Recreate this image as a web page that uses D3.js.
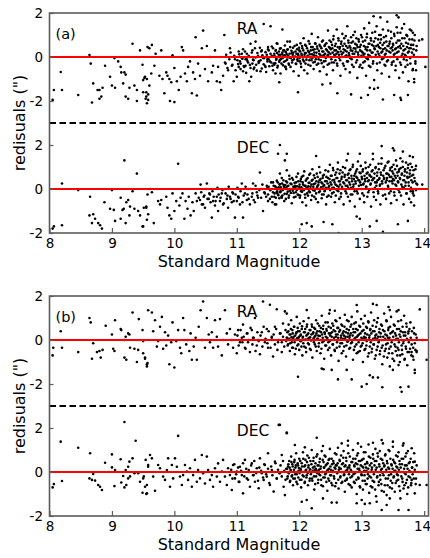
<!DOCTYPE html>
<html>
<head>
<meta charset="utf-8">
<script src="https://cdn.jsdelivr.net/npm/d3@7"></script>
<style>
  body { margin: 0; background: #fff; }
  svg { display: block; font-family: "DejaVu Sans", sans-serif; }
</style>
</head>
<body>
<div id="chart"></div>
<script>
// Residuos [magnitud, residuo en arcsec]
// (a) RA
const raA = [
  [8.05,-1.95],[8.07,-1.5],[8.18,-0.68],[8.2,-1.5],[8.46,-1.73],[8.64,0.09],[8.66,-0.3],[8.68,-2.07],[8.7,-1.2],[8.77,-1.5],
  [8.8,-1.5],[8.8,-1.9],[8.83,-1.8],[8.85,-1.4],[8.89,-0.4],[8.97,-0.9],[9.0,-1.3],[9.05,-1.4],[9.04,-0.05],[9.1,-0.2],
  [9.14,-0.45],[9.15,-0.7],[9.2,-0.7],[9.22,-0.8],[9.18,-1.2],[9.22,-1.8],[9.26,-1.9],[9.28,-1.4],[9.33,0.6],[9.36,-1.3],
  [9.4,-1.5],[9.4,-2.0],[9.45,0.3],[9.49,-0.35],[9.5,-1.6],[9.53,-0.9],[9.55,-1.8],[9.56,-1.0],[9.57,0.45],[9.58,-1.95],
  [9.5,-1.05],[9.52,-0.95],[9.55,-1.6],[9.54,-1.9],[9.58,-1.7],[9.56,-2.1],[9.6,-1.3],[9.63,-0.75],[9.6,0.4],[9.64,0.55],
  [9.68,-0.4],[9.7,0.15],[9.76,-0.85],[9.79,0.3],[9.81,-1.0],[9.84,-1.65],[9.87,-0.7],[9.89,-0.85],[9.92,-1.0],[9.95,-1.15],
  [9.97,0.08],[9.93,-2.0],[10.0,-2.05],[10.0,-0.5],[10.04,-1.1],[10.07,-1.5],[10.1,-0.9],[10.12,0.45],[10.14,0.3],[10.17,-0.75],
  [10.2,-1.1],[10.22,-0.45],[10.25,-0.2],[10.28,-1.65],[10.3,-0.7],[10.33,-1.0],[10.34,0.9],[10.36,-1.75],[10.38,-0.3],[10.41,-0.85],
  [10.44,0.4],[10.46,1.2],[10.49,-0.55],[10.52,0.5],[10.54,-1.1],[10.57,0.0],[10.6,-0.7],[10.62,-0.4],[10.65,0.3],[10.68,-1.1],
  [10.7,-0.45],[10.73,-1.15],[10.75,-1.5],[10.78,-0.85],[10.8,1.0],[10.82,-0.3],[10.86,-0.6],[10.89,0.4],[10.92,-0.4],[10.95,-1.1],
  [10.97,-0.1],[11.0,-0.9],[11.03,-0.45],[11.05,-0.2],[11.08,0.15],[11.1,-0.65],[11.14,-0.4],[11.16,-0.1],[11.2,-1.1],[11.22,0.6],
  [11.25,-0.3],[11.27,-0.55],[11.3,0.7],[11.33,0.0],[11.35,-0.2],[11.38,-0.65],[11.4,0.3],[11.43,1.5],[11.46,-0.45],[11.49,-0.1],
  [11.5,0.45],[11.54,1.4],[11.57,-0.4],[11.6,0.15],[11.62,-0.75],[11.65,0.6],[11.68,-1.15],[11.7,-0.1],[11.73,1.25],[11.76,0.3],
  [11.78,-0.45],[11.81,0.7],
  [11.02,-0.32],[11.04,0.12],[11.06,-0.55],[11.09,-0.08],[11.11,-0.41],[11.13,0.25],[11.15,-0.72],[11.17,-0.18],[11.19,0.05],[11.21,-0.36],
  [11.23,-0.9],[11.25,0.31],[11.26,-0.12],[11.28,-0.48],[11.3,-0.02],[11.32,-0.62],[11.33,0.18],[11.35,-0.27],[11.37,0.42],[11.38,-0.15],
  [11.4,-0.52],[11.41,0.08],[11.43,-0.33],[11.44,-0.05],[11.46,0.22],[11.47,-0.68],[11.49,-0.2],[11.5,0.35],
  [11.51,-0.1],[11.52,-0.42],[11.54,0.15],[11.55,-0.25],[11.56,0.48],[11.58,-0.6],[11.59,0.02],[11.6,-0.35],[11.62,0.28],[11.63,-0.12],
  [11.64,0.62],[11.65,-0.48],[11.67,0.1],[11.68,-0.22],[11.69,0.38],[11.7,-0.75],[11.72,-0.05],[11.73,0.2],[11.74,-0.38],[11.75,0.05],
  [11.77,0.52],[11.78,-0.18],[11.79,-0.55],[11.8,0.12],[11.81,0.33],[11.83,-0.3],[11.84,-0.02],[11.85,0.7],[11.86,-0.45],[11.88,0.18],
  [11.89,-0.15],[11.9,0.42],[11.91,-0.65],[11.92,0.0],[11.94,0.25],[11.95,-0.32],[11.96,0.55],[11.97,-0.1],[11.98,0.15],[11.99,-0.85],
  [12.0,0.3],[12.01,-0.2],[12.02,0.62],[12.03,-0.45],[12.04,0.08],[12.05,0.4],[12.06,-0.12],[12.07,0.85],[12.08,-0.6],[12.09,0.18],
  [12.1,-0.3],[12.11,0.5],[12.12,0.0],[12.13,-0.75],[12.14,0.28],[12.15,0.72],[12.16,-0.15],[12.17,0.12],[12.18,-0.4],[12.19,0.45],
  [12.2,1.05],[12.21,-0.05],[12.22,0.32],[12.23,-0.55],[12.24,0.2],[12.25,-0.22],[12.26,0.6],[12.27,0.05],[12.28,-0.35],[12.29,0.38],
  [12.3,0.9],[12.31,-0.1],[12.32,0.15],[12.33,-0.65],[12.34,0.48],[12.35,0.02],[12.36,-0.28],[12.37,0.25],[12.38,0.75],[12.39,-0.45],
  [12.4,0.1],[12.41,0.55],[12.42,-0.18],[12.43,0.35],[12.44,-0.8],[12.45,0.05],[12.46,1.2],[12.47,0.22],[12.48,-0.3],[12.49,0.42],
  [12.5,0.15],[12.51,0.68],[12.52,-0.25],[12.53,0.4],[12.54,-0.6],[12.55,0.95],[12.56,0.1],[12.57,0.5],[12.58,-0.15],[12.59,0.3],
  [12.6,1.25],[12.61,-0.4],[12.62,0.22],[12.63,0.75],[12.64,-0.05],[12.65,0.45],[12.66,-0.85],[12.67,0.6],[12.68,0.12],[12.69,1.05],
  [12.7,-0.3],[12.71,0.35],[12.72,0.85],[12.73,0.02],[12.74,-0.55],[12.75,0.5],[12.76,0.25],[12.77,1.4],[12.78,-0.2],[12.79,0.65],
  [12.8,0.08],[12.81,-0.7],[12.82,0.42],[12.83,0.9],[12.84,-0.1],[12.85,0.28],[12.86,0.7],[12.87,-0.45],[12.88,0.15],[12.89,1.15],
  [12.9,0.38],[12.91,-0.25],[12.92,0.55],[12.93,-0.95],[12.94,0.2],[12.95,0.8],[12.96,0.0],[12.97,0.45],[12.98,-0.35],[12.99,1.0],
  [13.0,0.25],[13.01,-0.5],[13.02,0.7],[13.03,0.1],[13.04,1.3],[13.05,-0.2],[13.06,0.45],[13.07,-0.85],[13.08,0.9],[13.09,0.3],
  [13.1,-0.1],[13.11,0.6],[13.12,1.55],[13.13,0.05],[13.14,-0.45],[13.15,0.75],[13.16,0.2],[13.17,1.1],[13.18,-0.3],[13.19,0.5],
  [13.2,-1.05],[13.21,0.35],[13.22,0.85],[13.23,0.0],[13.24,1.4],[13.25,-0.6],[13.26,0.55],[13.27,0.15],[13.28,1.0],[13.29,-0.25],
  [13.3,0.4],[13.31,0.8],[13.32,-0.75],[13.33,0.25],[13.34,1.25],[13.35,-0.05],[13.36,0.65],[13.37,0.1],[13.38,-0.4],[13.39,0.95],
  [13.4,0.3],[13.41,1.6],[13.42,-0.15],[13.43,0.5],[13.44,-0.9],[13.45,0.7],[13.46,0.2],[13.47,1.15],[13.48,-0.35],[13.49,0.45],
  [13.5,0.6],[13.51,-0.2],[13.52,1.05],[13.53,0.15],[13.54,-0.6],[13.55,0.4],[13.56,1.35],[13.57,-0.1],[13.58,0.75],[13.59,0.25],
  [13.6,-0.95],[13.61,0.5],[13.62,1.1],[13.63,-0.35],[13.64,0.05],[13.65,0.85],[13.66,-0.7],[13.67,0.3],[13.68,1.5],[13.69,0.1],
  [13.7,-0.45],[13.71,0.65],[13.72,-0.15],[13.73,0.95],[13.74,0.2],[13.75,-1.1],[13.76,0.4],[13.77,1.25],[13.78,-0.3],[13.79,0.55],
  [13.8,0.0],[13.81,0.8],[13.82,-0.55],[13.83,0.35],[13.85,1.0],[13.86,-0.2],[13.88,0.5],
  [12.92,2.06],[13.56,1.9],[13.59,1.8],[13.19,1.85],[13.3,1.8],[11.98,-1.6],[12.37,-1.25],[12.5,-1.2],[12.61,-1.65],[12.83,-1.7],
  [12.99,-1.85],[13.1,-1.73],[13.13,-1.4],[13.2,-1.45],[13.26,-1.4],[13.34,-1.93],[13.52,-1.73],[13.62,-1.85],[13.63,-1.95],[13.74,-1.73],
  [13.84,-1.15],[13.84,-1.0],[13.87,-0.6],[13.92,0.75],[13.97,0.8],[14.02,-0.45],[13.82,1.1],[13.72,1.0]
]

// (a) RA, transicion y nucleo denso
const raARamp = [
  [10.81,-0.25],[10.83,0.1],[10.85,-0.5],[10.88,-0.1],[10.9,0.2],[10.93,-0.35],[10.96,0.05],[10.98,-0.6],[11.01,-0.15],[11.03,0.25],
  [11.06,-0.3],[11.08,-0.05],[11.1,0.35],[11.12,-0.45],[11.14,-0.1],[11.16,0.15],[11.18,-0.25],[11.2,0.0],[11.22,-0.5],[11.24,0.2],
  [11.27,-0.15],[11.29,0.4],[11.31,-0.35],[11.34,0.05],[11.36,-0.2],[11.39,0.25],[11.42,-0.05],[11.45,-0.4],[11.48,0.1],[11.51,0.3],
  [11.53,-0.2],[11.56,0.05],[11.58,0.4],[11.59,-0.3]
]

const raACore = [
  [11.605,0.05],[11.615,-0.28],[11.625,0.32],[11.635,-0.08],[11.645,0.18],[11.655,-0.4],[11.665,0.0],[11.675,0.25],[11.685,-0.15],[11.695,0.1],
  [11.705,0.4],[11.715,-0.3],[11.725,0.12],[11.735,-0.05],[11.745,0.3],[11.755,-0.22],[11.765,0.08],[11.775,-0.45],[11.785,0.22],[11.795,0.0],
  [11.805,-0.12],[11.815,0.35],[11.825,0.05],[11.835,-0.35],[11.845,0.15],[11.855,0.45],[11.865,-0.05],[11.875,0.28],[11.885,-0.25],[11.895,0.1],
  [11.905,0.2],[11.915,-0.1],[11.925,0.5],[11.935,0.02],[11.945,-0.3],[11.955,0.15],[11.965,0.35],[11.975,-0.18],[11.985,0.08],[11.995,0.42],
  [12.005,-0.05],[12.015,0.25],[12.025,-0.3],[12.035,0.15],[12.045,0.5],[12.055,0.0],[12.065,0.3],[12.075,-0.2],[12.085,0.1],[12.095,0.55],
  [12.105,0.18],[12.115,-0.12],[12.125,0.4],[12.135,0.05],[12.145,-0.35],[12.155,0.22],[12.165,0.6],[12.175,-0.02],[12.185,0.3],[12.195,-0.15],
  [12.205,0.12],[12.215,0.45],[12.225,-0.25],[12.235,0.08],[12.245,0.35],[12.255,0.62],[12.265,-0.1],[12.275,0.2],[12.285,0.48],[12.295,0.0],
  [12.305,-0.3],[12.315,0.28],[12.325,0.55],[12.335,0.1],[12.345,-0.15],[12.355,0.4],[12.365,0.7],[12.375,0.05],[12.385,0.25],[12.395,-0.2],
  [12.405,0.5],[12.415,0.15],[12.425,-0.05],[12.435,0.62],[12.445,0.3],[12.455,-0.35],[12.465,0.1],[12.475,0.45],[12.485,0.75],[12.495,0.0],
  [12.505,0.35],[12.515,-0.1],[12.525,0.55],[12.535,0.2],[12.545,0.8],[12.555,-0.25],[12.565,0.3],[12.575,0.05],[12.585,0.6],[12.595,0.15],
  [12.605,-0.3],[12.615,0.45],[12.625,0.85],[12.635,0.1],[12.645,0.38],[12.655,-0.15],[12.665,0.25],[12.675,0.7],[12.685,0.0],[12.695,0.5],
  [12.705,0.2],[12.715,-0.4],[12.725,0.6],[12.735,0.3],[12.745,0.95],[12.755,0.08],[12.765,-0.2],[12.775,0.42],[12.785,0.75],[12.795,0.18],
  [12.805,0.5],[12.815,-0.05],[12.825,0.3],[12.835,0.65],[12.845,-0.35],[12.855,0.15],[12.865,1.0],[12.875,0.4],[12.885,0.0],[12.895,0.6],
  [12.905,0.25],[12.915,0.85],[12.925,-0.15],[12.935,0.45],[12.945,0.1],[12.955,0.7],[12.965,-0.45],[12.975,0.3],[12.985,0.55],[12.995,0.05],
  [13.005,0.9],[13.015,0.2],[13.025,-0.25],[13.035,0.5],[13.045,0.15],[13.055,0.75],[13.065,0.35],[13.075,-0.05],[13.085,1.05],[13.095,0.45],
  [13.105,0.1],[13.115,-0.4],[13.125,0.6],[13.135,0.3],[13.145,0.85],[13.155,0.0],[13.165,0.55],[13.175,0.2],[13.185,-0.2],[13.195,0.7],
  [13.205,0.4],[13.215,1.15],[13.225,0.1],[13.235,0.5],[13.245,-0.3],[13.255,0.25],[13.265,0.8],[13.275,0.45],[13.285,0.05],[13.295,0.65],
  [13.305,1.0],[13.315,0.2],[13.325,-0.1],[13.335,0.55],[13.345,0.35],[13.355,0.9],[13.365,-0.35],[13.375,0.4],[13.385,0.15],[13.395,0.7],
  [13.405,-0.2],[13.415,0.5],[13.425,1.2],[13.435,0.25],[13.445,0.6],[13.455,0.0],[13.465,0.4],[13.475,0.85],[13.485,-0.25],[13.495,0.3],
  [13.505,0.55],[13.515,0.1],[13.525,0.95],[13.535,0.35],[13.545,-0.4],[13.555,0.65],[13.565,0.2],[13.575,1.1],[13.585,0.45],[13.595,0.0],
  [13.605,0.75],[13.615,-0.25],[13.625,0.4],[13.635,0.6],[13.645,1.3],[13.655,0.15],[13.665,0.5],[13.675,-0.1],[13.685,0.85],[13.695,0.35],
  [13.705,0.05],[13.715,1.0],[13.725,0.45],[13.735,-0.35],[13.745,0.6],[13.755,0.25],[13.765,0.8],[13.775,-0.05],[13.785,0.4],[13.795,1.2],
  [13.805,0.2],[13.815,-0.6],[13.825,0.55],[13.835,0.1],[13.845,0.75],[13.86,-0.3],[13.875,0.3]
]

// (a) DEC
const decA = [
  [8.05,-1.8],[8.07,-1.7],[8.2,-1.65],[8.2,0.25],[8.46,-0.05],[8.65,-0.35],[8.64,-1.2],[8.7,-1.15],[8.73,-1.35],[8.68,-1.55],
  [8.78,-1.55],[8.81,-1.65],[8.84,-1.8],[8.88,-0.6],[8.97,-0.9],[9.0,-0.05],[9.03,-0.95],[9.05,-1.45],[9.14,-0.4],[9.14,-1.35],
  [9.17,-0.95],[9.19,-0.9],[9.2,1.3],[9.22,-1.55],[9.23,-0.6],[9.26,-0.5],[9.28,-1.2],[9.29,-0.8],[9.33,-0.1],[9.36,-0.9],
  [9.4,0.7],[9.42,-1.0],[9.45,-1.2],[9.49,-1.7],[9.51,-0.85],[9.55,-0.8],[9.56,-1.4],[9.57,-0.25],
  [9.5,-1.7],[9.55,-0.85],[9.58,-1.15],[9.61,0.0],[9.64,-0.15],[9.67,-1.55],[9.74,-0.55],[9.77,-0.7],[9.79,-0.5],[9.87,-0.35],
  [9.89,-0.85],[9.92,-1.2],[9.95,-1.35],[9.97,-0.2],[10.0,-1.0],[10.03,-0.55],[10.06,1.15],[10.08,-0.75],[10.1,-0.4],[10.13,-0.2],
  [10.16,-1.35],[10.18,-0.55],[10.21,-0.9],[10.23,-0.35],[10.26,-1.2],[10.29,-0.6],[10.31,-1.0],[10.34,-0.2],[10.36,-0.55],[10.39,-0.4],
  [10.42,0.2],[10.44,-0.7],[10.47,-0.35],[10.49,-0.85],[10.52,0.25],[10.55,-0.45],[10.57,-0.25],[10.6,-1.3],[10.62,-0.55],[10.65,-0.75],
  [10.68,-0.35],[10.7,-1.0],[10.73,-0.55],[10.76,-0.2],[10.78,-0.7],[10.81,0.0],[10.84,-0.45],[10.86,-0.85],[10.89,-0.35],[10.92,-0.6],
  [10.94,-0.2],[10.97,-1.3],[11.0,-0.55],[11.02,-0.35],[11.05,-0.7],[11.08,0.25],[11.1,-1.3],[11.13,-0.2],[11.16,-0.5],[11.18,0.0],
  [11.21,-0.7],[11.24,-0.35],[11.26,0.25],[11.29,-0.6],[11.32,-0.15],[11.34,-0.4],[11.37,0.75],[11.4,0.0],[11.42,-1.0],[11.45,-0.2],
  [11.48,0.15],[11.5,-0.55],[11.53,-0.05],[11.56,-0.35],[11.58,0.3],[11.61,-0.7],[11.64,-0.15],[11.66,1.6],[11.69,0.7],[11.72,-0.4],
  [11.77,1.3],[11.8,0.85],
  [11.5,-0.25],[11.51,0.1],[11.53,-0.45],[11.54,-0.05],[11.55,0.3],[11.57,-0.6],[11.58,-0.15],[11.59,0.15],[11.6,-0.35],[11.62,0.02],
  [11.63,-0.7],[11.64,0.38],[11.65,-0.2],[11.67,0.08],[11.68,-0.42],[11.69,0.22],[11.7,-0.1],[11.72,0.5],[11.73,-0.3],[11.74,-0.02],
  [11.75,0.18],[11.76,-0.55],[11.78,0.05],[11.79,0.35],[11.8,-0.22],[11.81,0.12],[11.83,-0.4],[11.84,0.6],[11.85,-0.08],[11.86,0.25],
  [11.88,-0.65],[11.89,0.0],[11.9,0.42],[11.91,-0.18],[11.93,0.15],[11.94,-0.35],[11.95,0.3],[11.96,-0.05],[11.98,0.7],[11.99,-0.28],
  [12.0,0.1],[12.01,-0.4],[12.02,0.35],[12.03,-0.1],[12.04,0.55],[12.05,-0.6],[12.06,0.2],[12.07,0.0],[12.08,0.8],[12.09,-0.25],
  [12.1,0.15],[12.11,-0.75],[12.12,0.45],[12.13,0.05],[12.14,-0.3],[12.15,0.28],[12.16,0.65],[12.17,-0.15],[12.18,0.1],[12.19,-0.5],
  [12.2,0.38],[12.21,0.9],[12.22,-0.05],[12.23,0.22],[12.24,-0.35],[12.25,0.5],[12.26,0.0],[12.27,-0.2],[12.28,0.7],[12.29,0.12],
  [12.3,-0.6],[12.31,0.3],[12.32,1.0],[12.33,-0.1],[12.34,0.45],[12.35,0.08],[12.36,-0.42],[12.37,0.25],[12.38,0.6],[12.39,-0.25],
  [12.4,0.18],[12.41,-0.05],[12.42,0.85],[12.43,-0.7],[12.44,0.35],[12.45,0.02],[12.46,0.5],[12.47,-0.3],[12.48,0.15],[12.49,1.1],
  [12.5,0.3],[12.51,-0.35],[12.52,0.6],[12.53,0.05],[12.54,0.95],[12.55,-0.15],[12.56,0.42],[12.57,-0.6],[12.58,0.2],[12.59,0.75],
  [12.6,-0.05],[12.61,0.5],[12.62,1.2],[12.63,0.1],[12.64,-0.45],[12.65,0.35],[12.66,0.85],[12.67,-0.2],[12.68,0.55],[12.69,0.0],
  [12.7,1.0],[12.71,-0.7],[12.72,0.25],[12.73,0.65],[12.74,-0.1],[12.75,0.4],[12.76,1.3],[12.77,0.15],[12.78,-0.35],[12.79,0.7],
  [12.8,0.3],[12.81,-0.55],[12.82,0.9],[12.83,0.05],[12.84,0.48],[12.85,-0.25],[12.86,1.1],[12.87,0.2],[12.88,0.6],[12.89,-0.8],
  [12.9,0.35],[12.91,0.8],[12.92,-0.1],[12.93,0.5],[12.94,1.25],[12.95,0.0],[12.96,0.4],[12.97,-0.45],[12.98,0.72],[12.99,0.18],
  [13.0,0.55],[13.01,-0.2],[13.02,0.9],[13.03,0.25],[13.04,-0.6],[13.05,0.45],[13.06,1.2],[13.07,0.1],[13.08,0.7],[13.09,-0.35],
  [13.1,0.35],[13.11,1.0],[13.12,-0.05],[13.13,0.6],[13.14,0.2],[13.15,-0.8],[13.16,0.8],[13.17,0.4],[13.18,1.35],[13.19,-0.15],
  [13.2,0.5],[13.21,0.05],[13.22,0.95],[13.23,-0.5],[13.24,0.3],[13.25,0.75],[13.26,-0.1],[13.27,1.15],[13.28,0.45],[13.29,0.15],
  [13.3,-0.7],[13.31,0.65],[13.32,1.4],[13.33,0.25],[13.34,-0.3],[13.35,0.85],[13.36,0.5],[13.37,0.0],[13.38,1.05],[13.39,-0.45],
  [13.4,0.4],[13.41,0.7],[13.42,0.15],[13.43,1.25],[13.44,-0.2],[13.45,0.55],[13.46,0.95],[13.47,-0.65],[13.48,0.35],[13.49,0.8],
  [13.5,0.45],[13.51,1.1],[13.52,-0.15],[13.53,0.6],[13.54,0.2],[13.55,1.3],[13.56,-0.5],[13.57,0.75],[13.58,0.35],[13.59,-0.05],
  [13.6,0.9],[13.61,0.5],[13.62,1.4],[13.63,-0.3],[13.64,0.65],[13.65,0.1],[13.66,1.0],[13.67,-0.7],[13.68,0.4],[13.69,0.8],
  [13.7,0.15],[13.71,1.2],[13.72,-0.2],[13.73,0.55],[13.74,0.95],[13.75,0.3],[13.76,-0.45],[13.77,0.7],[13.78,1.15],[13.79,0.05],
  [13.8,0.6],[13.82,-0.1],[13.83,0.85],[13.85,0.35],[13.87,1.05],[13.89,0.2],
  [13.32,1.95],[13.5,1.85],[13.52,1.75],[11.69,2.0],[11.8,1.6],[12.27,1.5],[12.78,1.6],[12.97,1.6],[13.18,1.6],[13.66,1.7],
  [13.77,1.5],[13.82,1.45],[12.04,-1.6],[12.12,-1.55],[12.2,-1.7],[12.39,-1.5],[12.53,-1.6],[12.63,-2.0],[12.92,-1.25],[12.97,-1.35],
  [13.13,-1.7],[13.24,-1.45],[13.34,-1.95],[13.58,-1.6],[13.74,-1.45],[13.84,-0.75],[13.87,-0.05],[13.97,0.2],[13.79,-0.6],[13.82,-0.2]
]

// (a) DEC, transicion y nucleo denso
const decARamp = [
  [10.41,-0.5],[10.43,-0.15],[10.46,-0.7],[10.48,-0.3],[10.51,0.0],[10.53,-0.45],[10.56,-0.2],[10.58,-0.6],[10.61,-0.1],[10.63,-0.35],
  [10.66,-0.55],[10.69,0.05],[10.71,-0.25],[10.74,-0.4],[10.77,-0.05],[10.79,-0.65],[10.82,-0.2],[10.85,-0.3],[10.87,0.1],[10.9,-0.45],
  [10.93,-0.15],[10.95,-0.55],[10.98,-0.25],[11.01,0.05],[11.03,-0.4],[11.06,-0.1],[11.09,-0.6],[11.11,-0.3],[11.14,0.1],[11.17,-0.25],
  [11.19,-0.45],[11.22,0.0],[11.25,-0.2],[11.27,-0.5],[11.3,0.15],[11.33,-0.3],[11.36,-0.05],[11.39,-0.4],[11.41,0.2],[11.44,-0.15],
  [11.47,-0.35],[11.49,0.05]
]

const decACore = [
  [11.605,-0.2],[11.615,0.12],[11.625,-0.4],[11.635,0.05],[11.645,-0.1],[11.655,0.3],[11.665,-0.28],[11.675,0.0],[11.685,0.2],[11.695,-0.15],
  [11.705,0.08],[11.715,-0.35],[11.725,0.25],[11.735,-0.05],[11.745,0.4],[11.755,0.1],[11.765,-0.22],[11.775,0.18],[11.785,-0.45],[11.795,0.02],
  [11.805,0.3],[11.815,-0.12],[11.825,0.15],[11.835,-0.3],[11.845,0.45],[11.855,0.0],[11.865,-0.18],[11.875,0.22],[11.885,0.5],[11.895,-0.08],
  [11.905,0.1],[11.915,-0.38],[11.925,0.28],[11.935,0.05],[11.945,-0.15],[11.955,0.55],[11.965,0.12],[11.975,-0.25],[11.985,0.35],[11.995,0.0],
  [12.005,0.2],[12.015,-0.3],[12.025,0.45],[12.035,0.08],[12.045,-0.12],[12.055,0.3],[12.065,0.6],[12.075,-0.05],[12.085,0.15],[12.095,-0.4],
  [12.105,0.38],[12.115,0.05],[12.125,-0.2],[12.135,0.5],[12.145,0.12],[12.155,-0.1],[12.165,0.28],[12.175,0.7],[12.185,0.0],[12.195,0.2],
  [12.205,-0.3],[12.215,0.42],[12.225,0.1],[12.235,0.62],[12.245,-0.08],[12.255,0.25],[12.265,-0.45],[12.275,0.35],[12.285,0.05],[12.295,0.55],
  [12.305,0.18],[12.315,-0.15],[12.325,0.4],[12.335,0.75],[12.345,0.0],[12.355,0.3],[12.365,-0.25],[12.375,0.5],[12.385,0.12],[12.395,0.65],
  [12.405,-0.1],[12.415,0.35],[12.425,0.05],[12.435,0.55],[12.445,-0.35],[12.455,0.25],[12.465,0.8],[12.475,0.1],[12.485,0.45],[12.495,-0.05],
  [12.505,0.6],[12.515,0.2],[12.525,-0.2],[12.535,0.4],[12.545,0.85],[12.555,0.05],[12.565,0.3],[12.575,0.65],[12.585,-0.3],[12.595,0.5],
  [12.605,0.15],[12.615,0.9],[12.625,-0.1],[12.635,0.35],[12.645,0.7],[12.655,0.2],[12.665,-0.35],[12.675,0.45],[12.685,0.1],[12.695,0.75],
  [12.705,0.3],[12.715,0.0],[12.725,0.55],[12.735,0.95],[12.745,0.15],[12.755,-0.2],[12.765,0.4],[12.775,0.65],[12.785,0.05],[12.795,0.5],
  [12.805,0.85],[12.815,0.2],[12.825,-0.25],[12.835,0.6],[12.845,0.35],[12.855,1.0],[12.865,0.1],[12.875,0.45],[12.885,-0.1],[12.895,0.7],
  [12.905,0.25],[12.915,0.55],[12.925,0.9],[12.935,-0.2],[12.945,0.4],[12.955,0.15],[12.965,0.75],[12.975,0.3],[12.985,1.05],[12.995,0.0],
  [13.005,0.45],[13.015,0.8],[13.025,0.2],[13.035,-0.3],[13.045,0.6],[13.055,0.35],[13.065,0.95],[13.075,0.1],[13.085,0.5],[13.095,0.75],
  [13.105,-0.15],[13.115,0.4],[13.125,0.65],[13.135,1.1],[13.145,0.25],[13.155,0.55],[13.165,0.0],[13.175,0.85],[13.185,0.45],[13.195,-0.35],
  [13.205,0.7],[13.215,0.3],[13.225,1.0],[13.235,0.15],[13.245,0.6],[13.255,0.4],[13.265,-0.2],[13.275,0.9],[13.285,0.5],[13.295,0.2],
  [13.305,0.75],[13.315,1.15],[13.325,0.35],[13.335,0.0],[13.345,0.6],[13.355,0.45],[13.365,0.95],[13.375,-0.25],[13.385,0.3],[13.395,0.7],
  [13.405,0.5],[13.415,1.2],[13.425,0.1],[13.435,0.65],[13.445,0.35],[13.455,0.85],[13.465,-0.1],[13.475,0.55],[13.485,1.0],[13.495,0.25],
  [13.505,0.7],[13.515,0.4],[13.525,-0.3],[13.535,0.9],[13.545,0.5],[13.555,0.15],[13.565,1.05],[13.575,0.6],[13.585,0.3],[13.595,0.8],
  [13.605,-0.15],[13.615,0.45],[13.625,0.95],[13.635,0.2],[13.645,0.7],[13.655,1.25],[13.665,0.4],[13.675,0.05],[13.685,0.6],[13.695,0.9],
  [13.705,0.3],[13.715,-0.2],[13.725,0.75],[13.735,0.5],[13.745,1.1],[13.755,0.15],[13.765,0.55],[13.775,0.85],[13.785,-0.1],[13.795,0.4],
  [13.805,1.0],[13.815,0.3],[13.825,0.65],[13.835,-0.3],[13.845,0.5],[13.86,0.9],[13.875,0.25]
]

// (b) RA
const raB = [
  [8.06,-0.35],[8.05,-0.7],[8.18,0.4],[8.2,-0.35],[8.46,-0.55],[8.64,1.0],[8.66,0.8],[8.7,-0.15],[8.68,-0.85],[8.76,-0.55],
  [8.8,-0.5],[8.82,-0.8],[8.85,-0.45],[8.9,0.65],[9.0,0.25],[9.02,-0.4],[9.04,-0.5],[9.05,0.9],[9.14,0.5],[9.15,0.45],
  [9.2,0.0],[9.2,-0.8],[9.23,-0.9],[9.22,0.15],[9.26,0.3],[9.28,0.25],[9.29,-0.35],[9.33,1.25],[9.36,-0.4],[9.4,-1.0],
  [9.42,-0.45],[9.43,0.95],[9.49,0.45],[9.5,-0.6],[9.53,-0.85],[9.56,-1.2],[9.57,-1.05],
  [9.5,-0.05],[9.53,-0.8],[9.56,-1.1],[9.58,1.35],[9.64,1.25],[9.66,0.4],[9.69,0.9],[9.72,-0.3],[9.74,-0.05],[9.77,0.6],
  [9.8,1.05],[9.82,-0.4],[9.85,0.35],[9.87,-0.25],[9.9,0.2],[9.92,-1.1],[9.95,-0.1],[9.97,0.8],[10.0,-1.25],[10.03,-0.05],
  [10.06,0.45],[10.09,-0.35],[10.11,-0.6],[10.14,1.0],[10.16,0.45],[10.19,-0.2],[10.21,0.0],[10.24,-0.5],[10.26,0.3],[10.28,-0.9],
  [10.31,-0.3],[10.34,0.1],[10.36,-0.9],[10.39,0.6],[10.42,1.35],[10.44,0.0],[10.46,1.75],[10.49,-0.35],[10.52,1.0],[10.55,0.25],
  [10.57,-0.1],[10.6,0.35],[10.62,-0.35],[10.65,0.9],[10.68,0.15],[10.7,-0.3],[10.73,0.95],[10.76,-0.7],[10.78,0.0],[10.81,1.35],
  [10.84,0.3],[10.86,-0.2],[10.89,0.5],[10.92,0.0],[10.94,-0.35],[10.97,0.25],[11.0,-0.6],[11.02,0.45],[11.05,-0.1],[11.08,0.1],
  [11.1,0.7],[11.13,-0.35],[11.16,0.3],[11.18,-0.1],[11.21,-0.55],[11.24,0.45],[11.26,0.1],[11.29,1.0],[11.32,-0.25],[11.34,0.0],
  [11.37,-0.65],[11.4,0.35],[11.42,1.75],[11.45,-0.1],[11.48,0.5],[11.5,-0.35],[11.53,1.6],[11.56,0.15],[11.58,-0.75],[11.61,0.6],
  [11.64,1.4],[11.66,-0.1],[11.69,0.3],[11.72,-0.55],[11.74,0.75],[11.77,1.3],[11.8,0.1],
  [11.81,0.35],[11.82,-0.2],[11.83,0.7],[11.84,0.05],[11.85,-0.5],[11.86,0.25],[11.87,0.9],[11.88,-0.1],[11.89,0.45],[11.9,-0.35],
  [11.91,0.15],[11.92,0.6],[11.93,-0.65],[11.94,0.0],[11.95,0.3],[11.96,1.05],[11.97,-0.25],[11.98,0.4],[11.99,0.1],[12.0,-0.45],
  [12.01,0.75],[12.02,0.2],[12.03,-0.05],[12.04,0.5],[12.05,-0.7],[12.06,0.15],[12.07,0.85],[12.08,-0.3],[12.09,0.35],[12.1,0.02],
  [12.11,-0.55],[12.12,0.6],[12.13,0.25],[12.14,-0.15],[12.15,1.0],[12.16,0.1],[12.17,-0.4],[12.18,0.45],[12.19,-0.02],[12.2,0.7],
  [12.21,-0.8],[12.22,0.3],[12.23,0.08],[12.24,0.55],[12.25,-0.2],[12.26,0.2],[12.27,0.9],[12.28,-0.5],[12.29,0.4],
  [12.3,0.05],[12.31,-0.3],[12.32,0.65],[12.33,0.18],[12.34,-0.6],[12.35,0.35],[12.36,1.1],[12.37,-0.1],[12.38,0.5],[12.39,0.0],
  [12.4,-0.85],[12.41,0.28],[12.42,0.8],[12.43,-0.25],[12.44,0.42],[12.45,0.1],[12.46,-0.45],[12.47,0.6],[12.48,1.2],[12.49,-0.05],
  [12.5,0.3],[12.51,-0.7],[12.52,0.15],[12.53,0.75],[12.54,-0.2],[12.55,0.45],[12.56,0.02],[12.57,-0.5],[12.58,0.9],[12.59,0.25],
  [12.6,-0.35],[12.61,0.55],[12.62,0.1],[12.63,-0.95],[12.64,0.38],[12.65,1.0],[12.66,-0.15],[12.67,0.2],[12.68,-0.6],[12.69,0.65],
  [12.7,0.05],[12.71,0.4],[12.72,-0.3],[12.73,1.15],[12.74,0.15],[12.75,-0.75],[12.76,0.5],[12.77,-0.08],[12.78,0.3],[12.79,0.85],
  [12.8,-0.4],[12.81,0.2],[12.82,0.6],[12.83,-0.15],[12.84,1.05],[12.85,0.0],[12.86,-0.9],[12.87,0.35],[12.88,0.75],[12.89,-0.3],
  [12.9,0.1],[12.91,0.5],[12.92,-0.6],[12.93,1.3],[12.94,0.2],[12.95,-0.1],[12.96,0.65],[12.97,-0.5],[12.98,0.3],[12.99,0.95],
  [13.0,-0.25],[13.01,0.05],[13.02,-1.0],[13.03,0.45],[13.04,0.15],[13.05,1.1],[13.06,-0.4],[13.07,0.6],[13.08,-0.05],[13.09,0.25],
  [13.1,-0.75],[13.11,0.8],[13.12,0.1],[13.13,-0.3],[13.14,0.5],[13.15,1.25],[13.16,-0.55],[13.17,0.0],[13.18,0.4],[13.19,-0.2],
  [13.2,0.9],[13.21,-0.85],[13.22,0.2],[13.23,0.6],[13.24,-0.45],[13.25,0.05],[13.26,1.0],[13.27,-0.1],[13.28,0.35],[13.29,-0.65],
  [13.3,0.15],[13.31,0.7],[13.32,-0.35],[13.33,-1.1],[13.34,0.45],[13.35,0.0],[13.36,1.2],[13.37,-0.5],[13.38,0.25],[13.39,-0.2],
  [13.4,0.85],[13.41,-0.8],[13.42,0.1],[13.43,0.55],[13.44,-0.4],[13.45,-1.2],[13.46,0.3],[13.47,1.05],[13.48,-0.1],[13.49,-0.6],
  [13.5,0.4],[13.51,0.0],[13.52,-0.95],[13.53,0.65],[13.54,-0.3],[13.55,0.2],[13.56,1.3],[13.57,-0.7],[13.58,0.05],[13.59,-0.45],
  [13.6,0.5],[13.61,-1.0],[13.62,0.15],[13.63,0.9],[13.64,-0.25],[13.65,-0.65],[13.66,0.35],[13.67,-0.05],[13.68,1.1],[13.69,-0.85],
  [13.7,0.2],[13.71,-0.4],[13.72,0.6],[13.73,-1.15],[13.74,0.0],[13.75,0.4],[13.76,-0.55],[13.78,0.8],[13.8,-0.2],[13.82,-0.75],
  [13.84,0.3],[13.86,-0.45],[13.88,0.1],
  [12.92,1.59],[13.18,1.64],[13.24,1.59],[13.43,1.5],[13.45,1.36],[13.59,1.36],[13.93,1.39],[12.49,1.36],[12.57,1.33],[12.12,1.36],
  [11.8,1.2],[11.98,-1.67],[12.36,-1.3],[12.39,-1.33],[12.52,-1.36],[12.62,-1.79],[12.76,-1.36],[12.84,-1.79],[13.0,-2.12],[13.08,-2.0],
  [13.13,-1.6],[13.18,-1.7],[13.26,-1.71],[13.33,-2.15],[13.5,-1.36],[13.59,-1.14],[13.62,-2.15],[13.64,-2.35],[13.75,-2.12],[13.83,-0.9],
  [13.85,-1.36],[13.85,-1.5],[14.04,-0.9],[13.8,-0.55],[13.88,-0.55],[13.98,0.0]
]

// (b) RA, transicion y nucleo denso
const raBRamp = [
  [11.01,0.2],[11.03,-0.25],[11.06,0.45],[11.09,-0.1],[11.11,0.15],[11.14,-0.4],[11.17,0.3],[11.19,0.0],[11.22,0.55],[11.25,-0.2],
  [11.27,0.1],[11.3,-0.5],[11.33,0.35],[11.35,-0.05],[11.38,0.2],[11.41,-0.3],[11.43,0.6],[11.46,0.05],[11.49,-0.15],[11.51,0.4],
  [11.54,-0.35],[11.56,0.1],[11.59,0.25],[11.61,-0.2],[11.63,0.5],[11.65,-0.45],[11.67,0.0],[11.7,0.3],[11.72,-0.1],[11.74,0.15],
  [11.76,-0.3],[11.78,0.45],[11.79,-0.05]
]

const raBCore = [
  [11.805,0.1],[11.815,-0.25],[11.825,0.4],[11.835,0.0],[11.845,0.25],[11.855,-0.15],[11.865,0.5],[11.875,0.12],[11.885,-0.35],[11.895,0.3],
  [11.905,0.05],[11.915,0.6],[11.925,-0.1],[11.935,0.2],[11.945,-0.4],[11.955,0.35],[11.965,0.08],[11.975,0.55],[11.985,-0.2],[11.995,0.15],
  [12.005,0.4],[12.015,-0.05],[12.025,0.25],[12.035,-0.3],[12.045,0.62],[12.055,0.1],[12.065,-0.15],[12.075,0.35],[12.085,0.0],[12.095,0.5],
  [12.105,-0.35],[12.115,0.2],[12.125,0.7],[12.135,0.05],[12.145,0.3],[12.155,-0.2],[12.165,0.45],[12.175,0.12],[12.185,-0.45],[12.195,0.25],
  [12.205,0.6],[12.215,0.0],[12.225,0.35],[12.235,-0.1],[12.245,0.15],[12.255,0.5],[12.265,-0.3],[12.275,0.3],[12.285,0.05],[12.295,0.75],
  [12.305,0.2],[12.315,-0.15],[12.325,0.4],[12.335,0.0],[12.345,0.55],[12.355,-0.4],[12.365,0.25],[12.375,0.1],[12.385,0.65],[12.395,-0.05],
  [12.405,0.35],[12.415,-0.25],[12.425,0.15],[12.435,0.5],[12.445,0.05],[12.455,0.8],[12.465,-0.1],[12.475,0.3],[12.485,-0.35],[12.495,0.2],
  [12.505,0.55],[12.515,0.0],[12.525,0.35],[12.535,-0.2],[12.545,0.65],[12.555,0.1],[12.565,-0.45],[12.575,0.4],[12.585,0.15],[12.595,0.85],
  [12.605,-0.1],[12.615,0.25],[12.625,0.55],[12.635,0.0],[12.645,-0.3],[12.655,0.45],[12.665,0.1],[12.675,0.7],[12.685,-0.15],[12.695,0.3],
  [12.705,-0.5],[12.715,0.2],[12.725,0.6],[12.735,0.05],[12.745,0.35],[12.755,-0.25],[12.765,0.9],[12.775,0.15],[12.785,-0.05],[12.795,0.45],
  [12.805,0.1],[12.815,-0.35],[12.825,0.3],[12.835,0.7],[12.845,-0.1],[12.855,0.2],[12.865,0.5],[12.875,-0.45],[12.885,0.05],[12.895,0.35],
  [12.905,0.8],[12.915,-0.2],[12.925,0.15],[12.935,0.45],[12.945,-0.55],[12.955,0.25],[12.965,0.0],[12.975,0.6],[12.985,-0.3],[12.995,0.1],
  [13.005,0.4],[13.015,-0.15],[13.025,0.75],[13.035,0.05],[13.045,-0.45],[13.055,0.3],[13.065,0.1],[13.075,-0.25],[13.085,0.55],[13.095,0.0],
  [13.105,0.85],[13.115,-0.6],[13.125,0.2],[13.135,0.45],[13.145,-0.1],[13.155,0.3],[13.165,-0.4],[13.175,0.65],[13.185,0.05],[13.195,-0.2],
  [13.205,0.4],[13.215,0.1],[13.225,-0.7],[13.235,0.25],[13.245,0.8],[13.255,-0.3],[13.265,0.15],[13.275,-0.05],[13.285,0.5],[13.295,-0.5],
  [13.305,0.3],[13.315,0.0],[13.325,0.65],[13.335,-0.25],[13.345,0.15],[13.355,-0.75],[13.365,0.4],[13.375,0.05],[13.385,-0.4],[13.395,0.9],
  [13.405,0.2],[13.415,-0.15],[13.425,0.45],[13.435,-0.6],[13.445,0.1],[13.455,0.6],[13.465,-0.3],[13.475,0.0],[13.485,0.35],[13.495,-0.85],
  [13.505,0.15],[13.515,0.7],[13.525,-0.2],[13.535,0.3],[13.545,-0.5],[13.555,0.05],[13.565,0.5],[13.575,-0.35],[13.585,0.85],[13.595,-0.1],
  [13.605,0.25],[13.615,-0.7],[13.625,0.4],[13.635,0.0],[13.645,-0.45],[13.655,0.6],[13.665,-0.15],[13.675,0.2],[13.685,-0.9],[13.695,0.35],
  [13.705,-0.3],[13.715,0.75],[13.725,0.05],[13.735,-0.55],[13.745,0.3],[13.755,-0.1],[13.765,0.5],[13.775,-0.4],[13.785,0.1],[13.795,-0.7],
  [13.805,0.4],[13.815,0.0],[13.825,-0.35],[13.835,0.55],[13.85,-0.15],[13.865,0.25],[13.88,-0.5]
]

// (b) DEC
const decB = [
  [8.05,-0.7],[8.07,-0.55],[8.18,1.38],[8.2,-0.41],[8.46,1.1],[8.65,0.85],[8.64,-0.29],[8.68,-0.36],[8.7,-0.09],[8.73,-0.39],
  [8.78,-0.59],[8.81,-0.67],[8.84,-0.82],[8.89,0.42],[9.0,0.8],[9.0,0.21],[9.04,-0.64],[9.05,0.09],[9.14,0.58],[9.15,-0.48],
  [9.18,-0.18],[9.2,2.27],[9.2,-0.7],[9.22,0.09],[9.23,-0.59],[9.26,0.24],[9.26,-0.29],[9.28,0.47],[9.29,-0.2],[9.33,0.62],
  [9.36,-0.06],[9.38,1.42],[9.42,-0.06],[9.45,-0.44],[9.49,-0.94],[9.51,-0.2],[9.54,0.55],[9.55,-1.0],[9.56,-0.59],[9.58,0.24],
  [9.5,-0.29],[9.53,-0.67],[9.56,-0.97],[9.58,0.32],[9.61,0.77],[9.64,0.62],[9.66,-0.21],[9.69,-0.85],[9.74,0.32],[9.77,0.17],
  [9.82,-0.21],[9.85,-0.36],[9.88,0.09],[9.9,0.62],[9.93,-0.67],[9.96,0.32],[9.98,-0.29],[10.01,0.62],[10.04,0.24],[10.06,1.64],
  [10.09,-0.21],[10.12,-0.59],[10.14,-0.14],[10.17,0.32],[10.2,0.02],[10.22,-0.36],[10.25,0.17],[10.28,-0.67],[10.3,-0.14],[10.33,0.55],
  [10.36,-0.44],[10.38,0.09],[10.41,-0.29],[10.44,0.77],[10.46,-0.06],[10.49,-0.52],[10.52,0.7],[10.54,0.09],[10.57,-0.36],[10.6,-0.14],
  [10.62,-0.67],[10.65,0.17],[10.68,-0.21],[10.7,0.39],[10.73,-0.44],[10.76,0.02],[10.78,0.55],[10.81,-0.21],[10.84,-0.59],[10.86,0.17],
  [10.89,-0.14],[10.92,-0.82],[10.94,0.32],[10.97,-0.29],[11.0,0.02],[11.03,-0.44],[11.05,0.24],[11.08,-0.14],[11.1,-0.97],[11.13,0.55],
  [11.16,-0.29],[11.19,0.09],[11.21,-0.67],[11.24,0.39],[11.27,-0.14],[11.29,-0.44],[11.32,0.17],[11.35,-0.74],[11.37,0.62],[11.4,-0.06],
  [11.43,-0.36],[11.45,0.32],[11.48,-0.21],[11.5,0.85],[11.53,-0.59],[11.56,0.09],[11.59,-0.89],[11.61,0.47],[11.64,-0.29],[11.67,2.14],
  [11.69,-0.06],[11.72,0.77],[11.75,-0.67],[11.8,1.76],[11.79,0.15],
  [11.81,-0.3],[11.82,0.25],[11.83,-0.05],[11.84,0.5],[11.85,-0.45],[11.86,0.1],[11.87,0.7],[11.88,-0.2],[11.89,0.35],[11.9,-0.6],
  [11.91,0.0],[11.92,0.45],[11.93,-0.3],[11.94,0.2],[11.95,0.85],[11.96,-0.1],[11.97,-0.55],[11.98,0.3],[11.99,0.05],[12.0,0.6],
  [12.01,-0.35],[12.02,0.15],[12.03,-0.7],[12.04,0.4],[12.05,0.0],[12.06,0.9],[12.07,-0.2],[12.08,0.25],[12.09,-0.45],[12.1,0.55],
  [12.11,0.1],[12.12,-0.15],[12.13,0.75],[12.14,-0.6],[12.15,0.3],[12.16,0.02],[12.17,-0.3],[12.18,0.5],[12.19,-0.05],[12.2,1.0],
  [12.21,-0.4],[12.22,0.2],[12.23,0.65],[12.24,-0.8],[12.25,0.1],[12.26,0.4],[12.27,-0.2],[12.28,0.05],[12.29,0.8],
  [12.3,-0.5],[12.31,0.3],[12.32,-0.1],[12.33,0.6],[12.34,0.15],[12.35,-0.35],[12.36,0.95],[12.37,0.0],[12.38,-0.65],[12.39,0.45],
  [12.4,0.2],[12.41,-0.25],[12.42,0.7],[12.43,-0.05],[12.44,0.35],[12.45,-0.85],[12.46,0.1],[12.47,0.55],[12.48,-0.4],[12.49,1.05],
  [12.5,0.25],[12.51,-0.15],[12.52,0.6],[12.53,-0.6],[12.54,0.05],[12.55,0.4],[12.56,-0.3],[12.57,0.85],[12.58,0.15],[12.59,-0.5],
  [12.6,0.3],[12.61,-0.05],[12.62,1.1],[12.63,-0.75],[12.64,0.2],[12.65,0.5],[12.66,-0.2],[12.67,0.75],[12.68,0.0],[12.69,-0.45],
  [12.7,0.4],[12.71,0.95],[12.72,-0.1],[12.73,-0.9],[12.74,0.3],[12.75,0.65],[12.76,-0.35],[12.77,0.1],[12.78,1.2],[12.79,-0.55],
  [12.8,0.2],[12.81,0.7],[12.82,-0.25],[12.83,0.05],[12.84,-0.7],[12.85,0.45],[12.86,1.0],[12.87,-0.1],[12.88,0.3],[12.89,-0.5],
  [12.9,0.6],[12.91,0.0],[12.92,-1.0],[12.93,0.35],[12.94,0.85],[12.95,-0.3],[12.96,0.15],[12.97,-0.65],[12.98,0.5],[12.99,1.15],
  [13.0,-0.15],[13.01,0.25],[13.02,-0.8],[13.03,0.6],[13.04,0.05],[13.05,-0.4],[13.06,0.9],[13.07,0.2],[13.08,-0.55],[13.09,0.4],
  [13.1,-0.1],[13.11,1.25],[13.12,-0.95],[13.13,0.3],[13.14,0.65],[13.15,-0.25],[13.16,0.1],[13.17,-0.7],[13.18,0.8],[13.19,0.0],
  [13.2,-0.45],[13.21,0.5],[13.22,1.05],[13.23,-1.1],[13.24,0.2],[13.25,-0.2],[13.26,0.7],[13.27,-0.6],[13.28,0.35],[13.29,0.95],
  [13.3,-0.35],[13.31,0.1],[13.32,-0.85],[13.33,0.55],[13.34,1.3],[13.35,-0.15],[13.36,0.25],[13.37,-0.6],[13.38,0.8],[13.39,0.0],
  [13.4,-1.05],[13.41,0.4],[13.42,-0.3],[13.43,1.0],[13.44,0.15],[13.45,-0.7],[13.46,0.6],[13.47,-0.1],[13.48,0.3],[13.49,-0.5],
  [13.5,1.15],[13.51,-0.25],[13.52,0.45],[13.53,-0.9],[13.54,0.05],[13.55,0.75],[13.56,-0.4],[13.57,0.2],[13.58,-0.15],[13.59,0.9],
  [13.6,-0.65],[13.61,0.35],[13.62,-1.2],[13.63,0.0],[13.64,0.6],[13.65,-0.3],[13.66,1.2],[13.67,-0.75],[13.68,0.15],[13.69,-0.05],
  [13.7,0.7],[13.71,-0.5],[13.72,0.3],[13.73,-1.0],[13.74,0.95],[13.75,-0.2],[13.77,0.45],[13.79,-0.6],[13.81,0.2],[13.84,0.85],
  [13.87,-0.3],
  [11.69,2.14],[11.8,1.79],[12.28,1.56],[11.93,1.23],[12.09,1.12],[12.38,1.18],[12.68,1.3],[12.78,1.42],[12.94,1.3],[13.18,1.33],
  [13.32,1.45],[13.5,1.38],[13.67,1.3],[13.8,1.08],[13.85,0.47],[11.77,-1.05],[12.04,-1.35],[12.12,-1.27],[12.2,-1.65],[12.38,-1.2],
  [12.52,-1.39],[12.6,-1.39],[12.92,-1.42],[13.0,-1.27],[13.05,-1.45],[13.13,-1.42],[13.24,-1.35],[13.32,-1.73],[13.4,-1.5],[13.45,-1.2],
  [13.59,-1.73],[13.75,-1.73],[13.85,-0.97],[13.93,-0.59],[14.04,-0.59],[13.8,-0.36]
]

// (b) DEC, transicion y nucleo denso
const decBRamp = [
  [10.91,0.1],[10.93,-0.3],[10.96,0.35],[10.99,-0.1],[11.02,0.2],[11.04,-0.45],[11.07,0.05],[11.1,0.4],[11.12,-0.2],[11.15,0.15],
  [11.18,-0.35],[11.2,0.0],[11.23,0.3],[11.26,-0.15],[11.28,0.5],[11.31,-0.05],[11.34,-0.4],[11.36,0.2],[11.39,0.05],[11.42,-0.25],
  [11.44,0.35],[11.47,-0.1],[11.5,0.15],[11.52,-0.5],[11.55,0.25],[11.57,-0.15],[11.6,0.0],[11.62,0.4],[11.64,-0.3],[11.66,0.1],
  [11.68,-0.05],[11.7,0.3],[11.72,-0.2],[11.74,0.5],[11.76,0.05],[11.78,-0.35]
]

const decBCore = [
  [11.805,0.15],[11.815,-0.2],[11.825,0.35],[11.835,-0.05],[11.845,0.2],[11.855,-0.4],[11.865,0.05],[11.875,0.45],[11.885,-0.15],[11.895,0.25],
  [11.905,-0.3],[11.915,0.1],[11.925,0.55],[11.935,-0.1],[11.945,0.3],[11.955,-0.45],[11.965,0.0],[11.975,0.4],[11.985,-0.25],[11.995,0.18],
  [12.005,-0.05],[12.015,0.5],[12.025,0.1],[12.035,-0.35],[12.045,0.25],[12.055,-0.15],[12.065,0.6],[12.075,0.0],[12.085,-0.5],[12.095,0.3],
  [12.105,0.08],[12.115,-0.25],[12.125,0.45],[12.135,-0.05],[12.145,0.2],[12.155,0.65],[12.165,-0.4],[12.175,0.12],[12.185,-0.1],[12.195,0.35],
  [12.205,-0.3],[12.215,0.05],[12.225,0.5],[12.235,-0.2],[12.245,0.25],[12.255,-0.55],[12.265,0.15],[12.275,0.7],[12.285,-0.05],[12.295,0.3],
  [12.305,-0.35],[12.315,0.1],[12.325,0.45],[12.335,-0.15],[12.345,0.25],[12.355,-0.6],[12.365,0.0],[12.375,0.55],[12.385,-0.25],[12.395,0.2],
  [12.405,0.75],[12.415,-0.1],[12.425,0.3],[12.435,-0.45],[12.445,0.05],[12.455,0.4],[12.465,-0.3],[12.475,0.15],[12.485,0.6],[12.495,-0.15],
  [12.505,0.1],[12.515,-0.5],[12.525,0.35],[12.535,0.0],[12.545,0.5],[12.555,-0.2],[12.565,0.2],[12.575,-0.65],[12.585,0.3],[12.595,0.8],
  [12.605,-0.05],[12.615,0.4],[12.625,-0.35],[12.635,0.1],[12.645,0.55],[12.655,-0.25],[12.665,0.15],[12.675,-0.5],[12.685,0.35],[12.695,0.0],
  [12.705,0.65],[12.715,-0.15],[12.725,0.25],[12.735,-0.4],[12.745,0.05],[12.755,0.5],[12.765,-0.3],[12.775,0.2],[12.785,0.85],[12.795,-0.1],
  [12.805,0.3],[12.815,-0.6],[12.825,0.1],[12.835,0.45],[12.845,-0.2],[12.855,0.0],[12.865,0.6],[12.875,-0.45],[12.885,0.25],[12.895,-0.05],
  [12.905,0.4],[12.915,-0.35],[12.925,0.75],[12.935,0.15],[12.945,-0.25],[12.955,0.5],[12.965,0.05],[12.975,-0.7],[12.985,0.3],[12.995,-0.1],
  [13.005,0.55],[13.015,-0.4],[13.025,0.2],[13.035,0.9],[13.045,-0.15],[13.055,0.35],[13.065,-0.55],[13.075,0.05],[13.085,0.45],[13.095,-0.3],
  [13.105,0.15],[13.115,0.7],[13.125,-0.2],[13.135,0.0],[13.145,-0.65],[13.155,0.4],[13.165,0.2],[13.175,-0.4],[13.185,0.6],[13.195,-0.1],
  [13.205,0.3],[13.215,-0.8],[13.225,0.1],[13.235,0.5],[13.245,-0.25],[13.255,0.85],[13.265,0.0],[13.275,-0.45],[13.285,0.25],[13.295,-0.15],
  [13.305,0.6],[13.315,-0.55],[13.325,0.15],[13.335,-0.05],[13.345,0.4],[13.355,-0.9],[13.365,0.3],[13.375,0.75],[13.385,-0.3],[13.395,0.1],
  [13.405,0.5],[13.415,-0.6],[13.425,0.2],[13.435,-0.15],[13.445,0.95],[13.455,0.0],[13.465,-0.4],[13.475,0.35],[13.485,-0.75],[13.495,0.15],
  [13.505,0.55],[13.515,-0.2],[13.525,0.05],[13.535,0.4],[13.545,-0.5],[13.555,0.25],[13.565,-0.1],[13.575,0.7],[13.585,-0.35],[13.595,0.1],
  [13.605,0.5],[13.615,-0.85],[13.625,0.2],[13.635,-0.2],[13.645,0.35],[13.655,-0.45],[13.665,0.6],[13.675,0.0],[13.685,-0.6],[13.695,0.3],
  [13.705,-0.1],[13.715,0.85],[13.725,-0.35],[13.735,0.15],[13.745,-0.7],[13.755,0.4],[13.765,0.05],[13.775,-0.25],[13.785,0.6],[13.795,-0.5],
  [13.805,0.2],[13.815,-0.1],[13.825,0.45],[13.835,-0.3],[13.85,0.1],[13.865,-0.55],[13.88,0.3]
]

const magTicks = [8, 9, 10, 11, 12, 13, 14]
const residTicks = [2, 0, -2]
const DEC_SHIFT = -6   // DEC se dibuja 6" por debajo de RA en el mismo eje

const W = 430, H = 558
const axisColor = '#5c5c5c'

const svg = d3.select('#chart').append('svg')
  .attr('width', W)
  .attr('height', H)

svg.append('rect').attr('width', W).attr('height', H).attr('fill', '#fff')

const x = d3.scaleLinear().domain([8, 14.07]).range([49.5, 428.5])
const [x0, x1] = x.range()

const panels = [
  { id: 'a', tag: '(a)', top: 13, bottom: 233,
    ra: raA.concat(raARamp, raACore), dec: decA.concat(decARamp, decACore) },
  { id: 'b', tag: '(b)', top: 296, bottom: 516,
    ra: raB.concat(raBRamp, raBCore), dec: decB.concat(decBRamp, decBCore) }
]

const draw_panel = p => {
  const y = d3.scaleLinear().domain([-8, 2]).range([p.bottom, p.top])
  const g = svg.append('g')

  svg.append('clipPath').attr('id', `clip-${p.id}`)
    .append('rect')
    .attr('x', x0).attr('y', p.top)
    .attr('width', x1 - x0).attr('height', p.bottom - p.top)

  const plot = g.append('g').attr('clip-path', `url(#clip-${p.id})`)

  // puntos RA y DEC
  plot.selectAll('circle.ra')
    .data(p.ra)
    .enter().append('circle')
    .attr('class', 'ra')
    .attr('cx', d => x(d[0]))
    .attr('cy', d => y(d[1]))
    .attr('r', 1.3)
    .attr('fill', '#000')

  plot.selectAll('circle.dec')
    .data(p.dec)
    .enter().append('circle')
    .attr('class', 'dec')
    .attr('cx', d => x(d[0]))
    .attr('cy', d => y(d[1] + DEC_SHIFT))
    .attr('r', 1.3)
    .attr('fill', '#000')

  // lineas de cero (rojas) y separador (discontinuo)
  const zeros = [0, DEC_SHIFT]
  plot.selectAll('line.zero')
    .data(zeros)
    .enter().append('line')
    .attr('x1', x0).attr('x2', x1)
    .attr('y1', d => y(d)).attr('y2', d => y(d))
    .attr('stroke', '#ff0000')
    .attr('stroke-width', 2)

  plot.append('line')
    .attr('x1', x0).attr('x2', x1)
    .attr('y1', y(DEC_SHIFT / 2)).attr('y2', y(DEC_SHIFT / 2))
    .attr('stroke', '#000')
    .attr('stroke-width', 2)
    .attr('stroke-dasharray', '6.5,3.5')

  // eje y: mismas etiquetas para RA y DEC
  const yTicks = residTicks.concat(residTicks.map(v => v + DEC_SHIFT))
  const yAxis = g.append('g')
    .attr('transform', `translate(${x0},0)`)
    .call(d3.axisLeft(y)
      .tickValues(yTicks)
      .tickFormat(v => String(v > DEC_SHIFT / 2 ? v : v - DEC_SHIFT))
      .tickSizeInner(-4)
      .tickSizeOuter(0)
      .tickPadding(6.5))

  const xAxis = g.append('g')
    .attr('transform', `translate(0,${p.bottom})`)
    .call(d3.axisBottom(x)
      .tickValues(magTicks)
      .tickFormat(d3.format('d'))
      .tickSizeInner(-5)
      .tickSizeOuter(0)
      .tickPadding(5.5))

  ;[yAxis, xAxis].forEach(a => {
    a.select('.domain').remove()
    a.selectAll('.tick line').attr('stroke', axisColor).attr('stroke-width', 1.2)
    a.selectAll('.tick text')
      .attr('fill', '#000')
      .style('font-size', '13.5px')
      .style('font-family', '"DejaVu Sans", sans-serif')
  })

  // el 14 queda justo en el borde
  xAxis.selectAll('.tick text').filter(d => d === 14).attr('dx', '-2')

  // marco
  g.append('rect')
    .attr('x', x0).attr('y', p.top)
    .attr('width', x1 - x0).attr('height', p.bottom - p.top)
    .attr('fill', 'none')
    .attr('stroke', axisColor)
    .attr('stroke-width', 1.6)

  // textos
  g.append('text')
    .attr('x', x0 + 6).attr('y', y(1.05))
    .attr('dy', '0.35em')
    .style('font-size', '14.5px')
    .text(p.tag)

  g.append('text')
    .attr('x', 247).attr('y', y(1.3))
    .attr('dy', '0.35em')
    .attr('text-anchor', 'middle')
    .style('font-size', '15.5px')
    .text('RA')

  g.append('text')
    .attr('x', 253).attr('y', y(1.9 + DEC_SHIFT))
    .attr('dy', '0.35em')
    .attr('text-anchor', 'middle')
    .style('font-size', '15.5px')
    .text('DEC')

  g.append('text')
    .attr('transform', `translate(24.5,${y(DEC_SHIFT / 2)}) rotate(-90)`)
    .attr('text-anchor', 'middle')
    .style('font-size', '16px')
    .text('redisuals (")')

  g.append('text')
    .attr('x', (x0 + x1) / 2).attr('y', p.bottom + 33.5)
    .attr('text-anchor', 'middle')
    .style('font-size', '16px')
    .text('Standard Magnitude')
}

panels.forEach(draw_panel)
</script>
</body>
</html>
